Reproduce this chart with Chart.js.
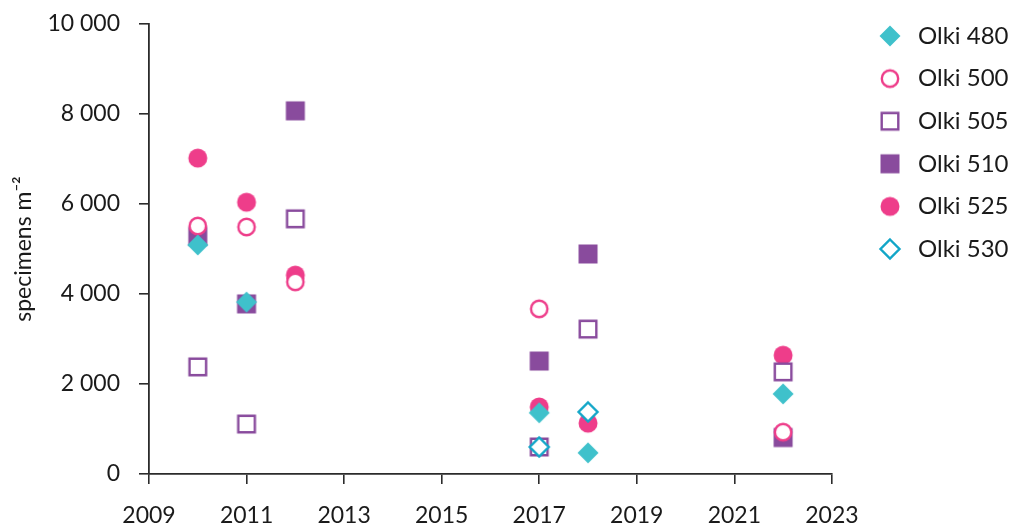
<!DOCTYPE html>
<html>
<head>
<meta charset="utf-8">
<script src="https://cdn.jsdelivr.net/npm/chart.js@4/dist/chart.umd.min.js"></script>
<style>
  html, body { margin: 0; padding: 0; background: #ffffff; }
  #wrap { width: 1009px; height: 525px; position: relative; }
</style>
</head>
<body>
<div id="wrap"><canvas id="chart" width="1009" height="525"></canvas></div>
<script>
// Sampling years and densities (specimens per m²) for each station
const seriesNames = ['Olki 480', 'Olki 500', 'Olki 505', 'Olki 510', 'Olki 525', 'Olki 530'];

const years480 = [2010, 2011, 2017, 2018, 2022];
const values480 = [5090, 3820, 1360, 470, 1780];

const years500 = [2010, 2011, 2012, 2017, 2022];
const values500 = [5510, 5490, 4270, 3670, 930];

const years505 = [2010, 2011, 2012, 2017, 2018, 2022];
const values505 = [2380, 1110, 5670, 600, 3220, 2270];

const years510 = [2010, 2011, 2012, 2017, 2018, 2022];
const values510 = [5280, 3780, 8070, 2510, 4890, 810];

const years525 = [2010, 2011, 2012, 2017, 2018, 2022];
const values525 = [7020, 6040, 4420, 1490, 1130, 2640];

const years530 = [2017, 2018];
const values530 = [600, 1380];

const xTickYears = [2009, 2011, 2013, 2015, 2017, 2019, 2021, 2023];
const yTickValues = [0, 2000, 4000, 6000, 8000, 10000];

const TEAL = '#3fc1cb';
const PINK = '#ee3d8a';
const PURPLE = '#894b9d';
const CYAN = '#12a6c8';
const FONT = 'Lato, "Liberation Sans", sans-serif';

// Marker glyphs rendered once into small canvases and used as point styles
function marker(kind, color) {
  const c = document.createElement('canvas');
  c.width = 26; c.height = 26;
  const g = c.getContext('2d');
  const m = 13;
  g.lineWidth = 2.4;
  g.strokeStyle = color;
  g.fillStyle = color;
  g.beginPath();
  if (kind === 'diamond' || kind === 'diamondOpen') {
    const r = kind === 'diamond' ? 10.5 : 9.5;
    g.moveTo(m, m - r); g.lineTo(m + r, m); g.lineTo(m, m + r); g.lineTo(m - r, m); g.closePath();
  } else if (kind === 'circle') {
    g.arc(m, m, 9.5, 0, Math.PI * 2);
  } else if (kind === 'circleOpen') {
    g.arc(m, m, 8.2, 0, Math.PI * 2);
  } else if (kind === 'square') {
    g.rect(m - 9.5, m - 9.5, 19, 19);
  } else if (kind === 'squareOpen') {
    g.rect(m - 8.3, m - 8.3, 16.6, 16.6);
  }
  if (kind.endsWith('Open')) {
    g.fillStyle = '#ffffff';
    g.fill();
    g.stroke();
  } else {
    g.fill();
  }
  return c;
}

function pairs(xs, ys) {
  return xs.map((x, i) => ({ x: x, y: ys[i] }));
}

// "order" only sets the stacking of the marks; the legend keeps dataset order
const datasets = [
  { label: seriesNames[0], data: pairs(years480, values480), pointStyle: marker('diamond', TEAL), order: 1 },
  { label: seriesNames[1], data: pairs(years500, values500), pointStyle: marker('circleOpen', PINK), order: 1 },
  { label: seriesNames[2], data: pairs(years505, values505), pointStyle: marker('squareOpen', PURPLE), order: 1 },
  { label: seriesNames[3], data: pairs(years510, values510), pointStyle: marker('square', PURPLE), order: 2 },
  { label: seriesNames[4], data: pairs(years525, values525), pointStyle: marker('circle', PINK), order: 2 },
  { label: seriesNames[5], data: pairs(years530, values530), pointStyle: marker('diamondOpen', CYAN), order: 0 }
].map(d => Object.assign(d, { showLine: false, pointRadius: 10, pointHoverRadius: 10 }));

function spaced(v) {
  return String(v).replace(/\B(?=(\d{3})+(?!\d))/g, ' ');
}

const LEGEND_FONT = 24;
const LEGEND_PAD = 18.6;
const LEGEND_BOX = 32;

// Pins the legend block to the upper right, beside the plot
const legendPlace = {
  id: 'legendPlace',
  afterLayout(chart) {
    const lg = chart.legend;
    if (!lg) return;
    const w = lg.right - lg.left;
    const h = lg.bottom - lg.top;
    lg.left = 890 - LEGEND_PAD - LEGEND_BOX / 2;
    lg.right = lg.left + w;
    lg.top = 36 - LEGEND_PAD - LEGEND_FONT / 2;
    lg.bottom = lg.top + h;
  }
};

const AXIS = '#2b2b2b';

new Chart(document.getElementById('chart'), {
  type: 'scatter',
  data: { datasets: datasets },
  plugins: [legendPlace],
  options: {
    responsive: false,
    animation: false,
    events: [],
    layout: { padding: { top: 24, right: 14, bottom: 0, left: 0 } },
    plugins: {
      tooltip: { enabled: false },
      legend: {
        position: 'right',
        align: 'start',
        labels: {
          usePointStyle: true,
          pointStyleWidth: LEGEND_BOX,
          color: '#1a1a1a',
          font: { family: FONT, size: LEGEND_FONT },
          padding: LEGEND_PAD,
          sort: (a, b) => a.datasetIndex - b.datasetIndex
        }
      }
    },
    scales: {
      x: {
        type: 'linear',
        min: 2009,
        max: 2023,
        afterBuildTicks(scale) { scale.ticks = xTickYears.map(v => ({ value: v })); },
        afterFit(scale) { scale.height = 51; },
        ticks: {
          color: '#1a1a1a',
          font: { family: FONT, size: 23 },
          padding: 18,
          maxRotation: 0,
          callback: v => String(v)
        },
        grid: { drawOnChartArea: false, drawTicks: true, tickLength: 10, color: AXIS, lineWidth: 1.6 },
        border: { display: true, color: AXIS, width: 1.8 }
      },
      y: {
        type: 'linear',
        min: 0,
        max: 10000,
        afterBuildTicks(scale) { scale.ticks = yTickValues.map(v => ({ value: v })); },
        afterFit(scale) {
          scale.width = 149;
          scale.paddingTop = 0;
          scale.paddingBottom = 0;
        },
        ticks: {
          color: '#1a1a1a',
          font: { family: FONT, size: 23 },
          padding: 19,
          callback: v => spaced(v)
        },
        title: {
          display: true,
          text: 'specimens m⁻²',
          color: '#1a1a1a',
          font: { family: FONT, size: 23 },
          padding: { top: 10, bottom: 0 }
        },
        grid: { drawOnChartArea: false, drawTicks: true, tickLength: 10, color: AXIS, lineWidth: 1.6 },
        border: { display: true, color: AXIS, width: 1.8 }
      }
    }
  }
});
</script>
</body>
</html>
